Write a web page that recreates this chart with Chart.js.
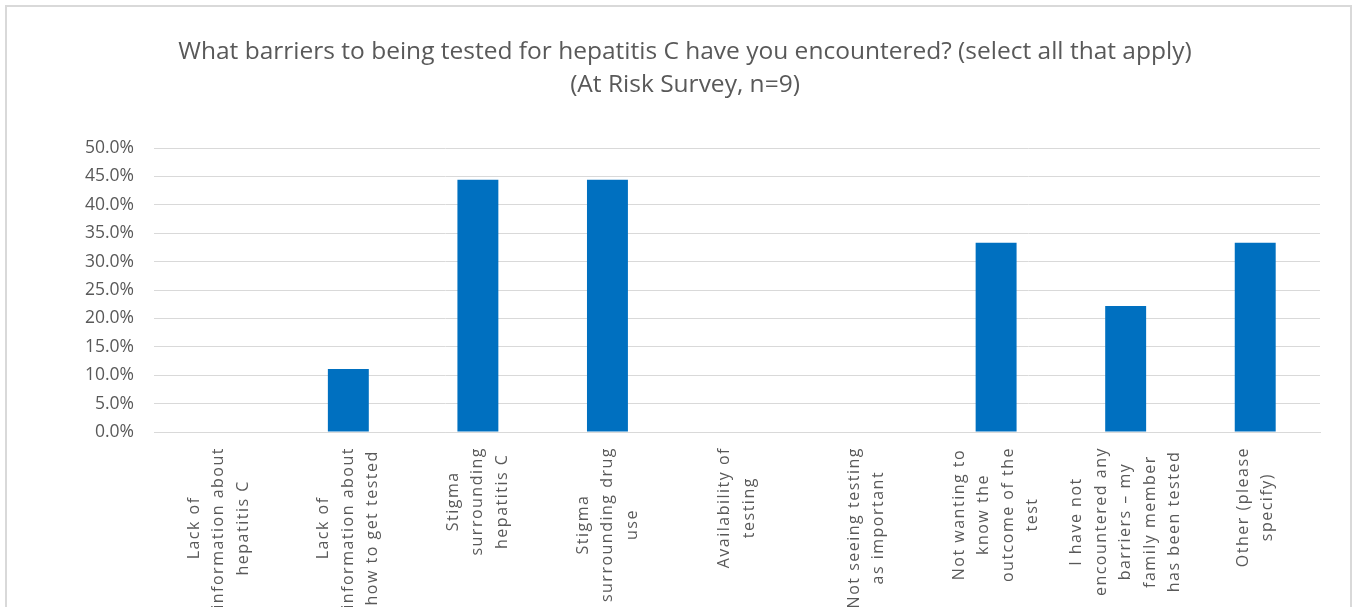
<!DOCTYPE html>
<html>
<head>
<meta charset="utf-8">
<script src="https://cdn.jsdelivr.net/npm/chart.js@4.4.1/dist/chart.umd.min.js"></script>
<style>
  html, body { margin: 0; padding: 0; background: #fff; overflow: hidden; }
  #frame {
    position: absolute; left: 5px; top: 5px;
    width: 1343px; height: 700px;
    border: 2px solid #d9d9d9; border-bottom: none;
    pointer-events: none;
  }
  canvas { position: absolute; left: 0; top: 0; }
</style>
</head>
<body>
<canvas id="chart" width="1354" height="607"></canvas>
<div id="frame"></div>
<script>
// survey answers, share of respondents (%)
const categories = [
  ["Lack of", "information about", "hepatitis C"],
  ["Lack of", "information about", "how to get tested"],
  ["Stigma", "surrounding", "hepatitis C"],
  ["Stigma", "surrounding drug", "use"],
  ["Availability of", "testing"],
  ["Not seeing testing", "as important"],
  ["Not wanting to", "know the", "outcome of the", "test"],
  ["I have not", "encountered any", "barriers \u2013 my", "family member", "has been tested"],
  ["Other (please", "specify)"]
];
const values = [0, 11.1, 44.4, 44.4, 0, 0, 33.3, 22.2, 33.3];
const titleLines = [
  "What barriers to being tested for hepatitis C have you encountered? (select all that apply)",
  "(At Risk Survey, n=9)"
];

const textColor = "#595959";
const gridColor = "#d9d9d9";

// rotated category labels, every line centred on the longest one
const verticalLabels = {
  id: "verticalLabels",
  afterDraw(chart) {
    const ctx = chart.ctx;
    const xs = chart.scales.x;
    const top = chart.chartArea.bottom + 15;
    const lineH = 24.5;
    ctx.save();
    ctx.font = "16px 'Open Sans'";
    ctx.letterSpacing = "1.5px";
    ctx.fillStyle = textColor;
    ctx.textAlign = "center";
    ctx.textBaseline = "middle";
    categories.forEach((lines, i) => {
      const x = xs.getPixelForValue(i);
      const maxW = Math.max(...lines.map(l => ctx.measureText(l).width));
      ctx.save();
      ctx.translate(x, top + maxW / 2);
      ctx.rotate(-Math.PI / 2);
      lines.forEach((l, j) => {
        ctx.fillText(l, 0, (j - (lines.length - 1) / 2) * lineH);
      });
      ctx.restore();
    });
    ctx.restore();
  }
};

new Chart(document.getElementById("chart"), {
  type: "bar",
  data: {
    labels: categories,
    datasets: [{
      data: values,
      backgroundColor: "#0070c0",
      borderWidth: 0,
      barPercentage: 0.316,
      categoryPercentage: 1
    }]
  },
  options: {
    responsive: false,
    animation: false,
    layout: { padding: { left: 50, right: 34, top: 0, bottom: 0 } },
    plugins: {
      legend: { display: false },
      tooltip: { enabled: false },
      title: {
        display: true,
        text: titleLines,
        color: textColor,
        font: { family: "'Open Sans'", size: 24.5, weight: "normal", lineHeight: 33 / 24.5 },
        padding: { top: 36, bottom: 46 }
      }
    },
    scales: {
      x: {
        grid: { display: false },
        border: { display: true, color: gridColor, width: 1 },
        ticks: { display: false },
        afterFit(scale) { scale.height = 175; }
      },
      y: {
        min: 0,
        max: 50,
        grid: { color: gridColor, lineWidth: 1, drawTicks: false },
        border: { display: false },
        ticks: {
          stepSize: 5,
          padding: 20,
          color: textColor,
          font: { family: "'Open Sans'", size: 17.5 },
          callback: v => v.toFixed(1) + "%"
        },
        afterFit(scale) { scale.width = 104; }
      }
    }
  },
  plugins: [verticalLabels]
});
</script>
</body>
</html>
